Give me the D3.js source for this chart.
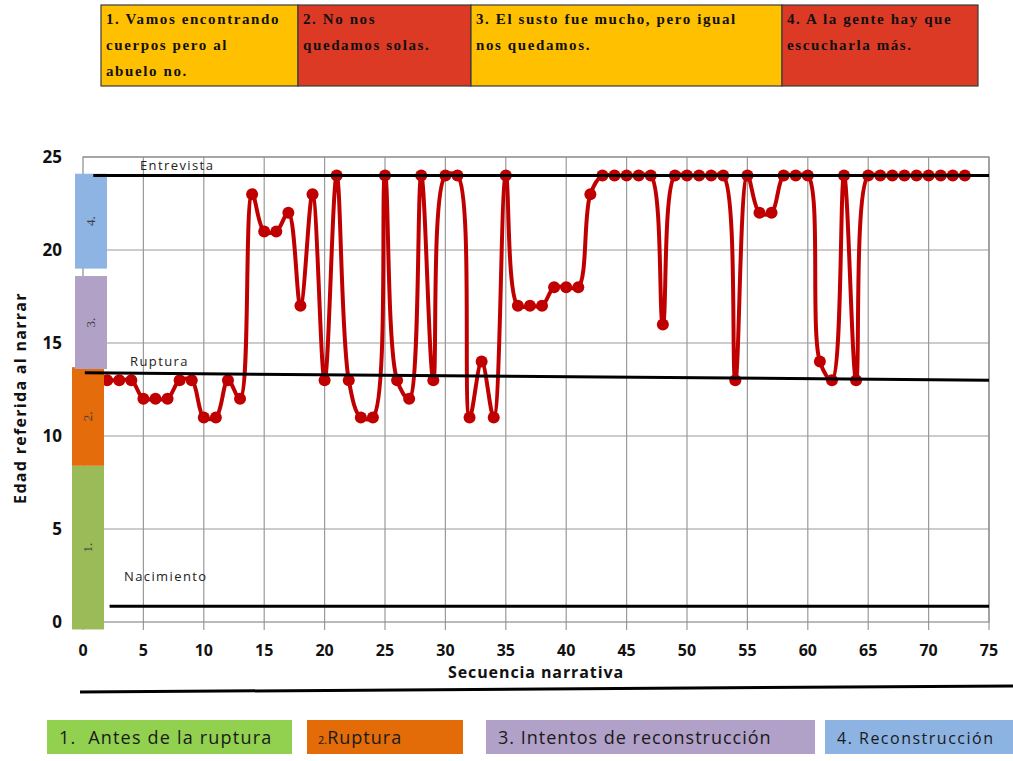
<!DOCTYPE html>
<html>
<head>
<meta charset="utf-8">
<script src="https://d3js.org/d3.v7.min.js"></script>
<style>
  body { margin: 0; background: #fff; }
  svg text { font-family: "Open Sans", "DejaVu Sans", sans-serif; white-space: pre; }
</style>
</head>
<body>
<svg id="chart" width="1013" height="761"></svg>
<script>
// secuencia narrativa (x) and edad referida (y)
var seqX = d3.range(2, 74);
var edad = [13, 13, 13, 12, 12, 12, 13, 13, 11, 11, 13, 12,
            23, 21, 21, 22, 17, 23, 13, 24, 13, 11, 11, 24,
            13, 12, 24, 13, 24, 24, 11, 14, 11, 24, 17, 17,
            17, 18, 18, 18, 23, 24, 24, 24, 24, 24, 16, 24,
            24, 24, 24, 24, 13, 24, 22, 22, 24, 24, 24, 14,
            13, 24, 13, 24, 24, 24, 24, 24, 24, 24, 24, 24];
var xTicks = d3.range(0, 80, 5);
var yTicks = [0, 5, 10, 15, 20, 25];

// reference lines: [x0, y0, x1, y1] in data units
var refNames = ["Entrevista", "Ruptura", "Nacimiento"];
var refLines = [[0.85, 24, 75, 24], [0.15, 13.4, 75, 13.0], [2.2, 0.85, 75, 0.85]];

// stage bands on the left, in data units (y from/to)
var stageLabels = ["1.", "2.", "3.", "4."];
var stageFrom = [-0.4, 8.4, 13.6, 19.0];
var stageTo = [8.4, 13.7, 18.6, 24.1];

// top table
var phrases = [
  ["1. Vamos encontrando", "cuerpos pero al", "abuelo no."],
  ["2. No nos", "quedamos solas."],
  ["3. El susto fue mucho, pero igual", "nos quedamos."],
  ["4. A la gente hay que", "escucharla más."]
];

// legend
var legendNames = ["1.  Antes de la ruptura", "Ruptura", "3. Intentos de reconstrucción", "4. Reconstrucción"];

var svg = d3.select("#chart");

var x = d3.scaleLinear().domain([0, 75]).range([83, 989]);
var y = d3.scaleLinear().domain([0, 25]).range([622, 157]);

// --- top table
var cellX = [101, 298, 471, 782, 978];
var cellFill = ["#ffc000", "#dd3a26", "#ffc000", "#dd3a26"];
var table = svg.append("g");
phrases.forEach(function (lines, i) {
  table.append("rect")
    .attr("x", cellX[i]).attr("y", 5)
    .attr("width", cellX[i + 1] - cellX[i]).attr("height", 81)
    .attr("fill", cellFill[i]).attr("stroke", "#3a3a3a").attr("stroke-width", 1.2);
  lines.forEach(function (t, j) {
    table.append("text")
      .attr("x", cellX[i] + 5).attr("y", 24 + j * 26)
      .style("font-family", "'Liberation Serif', 'DejaVu Serif', serif")
      .style("font-weight", "bold").style("font-size", "15px")
      .style("letter-spacing", "1.6px")
      .attr("fill", "#111").text(t);
  });
});

// --- grid
var g = svg.append("g");
g.selectAll(".gx").data(xTicks.slice(1)).enter().append("line")
  .attr("x1", d => x(d)).attr("x2", d => x(d))
  .attr("y1", y(25)).attr("y2", y(0) + 8)
  .attr("stroke", "#9a9a9a").attr("stroke-width", 1.2);
g.selectAll(".gy").data(yTicks.slice(1)).enter().append("line")
  .attr("x1", x(0)).attr("x2", x(75))
  .attr("y1", d => y(d)).attr("y2", d => y(d))
  .attr("stroke", "#9a9a9a").attr("stroke-width", 1.2);
g.append("rect")
  .attr("x", x(0)).attr("y", y(25))
  .attr("width", x(75) - x(0)).attr("height", y(0) - y(25))
  .attr("fill", "none").attr("stroke", "#8c8c8c").attr("stroke-width", 1.2);
g.append("line")
  .attr("x1", x(0)).attr("x2", x(0)).attr("y1", y(0)).attr("y2", y(0) + 8)
  .attr("stroke", "#9a9a9a");

// --- series
var pts = seqX.map((d, i) => [x(d), y(edad[i])]);
g.append("path")
  .attr("d", d3.line().curve(d3.curveCatmullRom.alpha(0.5))(pts))
  .attr("fill", "none").attr("stroke", "#c00000").attr("stroke-width", 4);
g.selectAll(".pt").data(pts).enter().append("circle")
  .attr("cx", d => d[0]).attr("cy", d => d[1]).attr("r", 6)
  .attr("fill", "#c00000");

// --- stage bands
var stageFill = ["#9bbb59", "#e46c0a", "#b2a1c7", "#8eb4e3"];
var stageLeft = [72, 72, 75, 75];
stageLabels.forEach(function (t, i) {
  var y0 = y(stageTo[i]), y1 = y(stageFrom[i]);
  g.append("rect")
    .attr("x", stageLeft[i]).attr("y", y0)
    .attr("width", 32).attr("height", y1 - y0)
    .attr("fill", stageFill[i]);
  var cx = stageLeft[i] + 16, cy = (y0 + y1) / 2;
  g.append("text")
    .attr("transform", "translate(" + (cx + 4) + "," + cy + ") rotate(-90)")
    .attr("text-anchor", "middle")
    .style("font-family", "'Liberation Serif', serif").style("font-size", "13px")
    .attr("fill", "#404040").text(t);
});

// --- reference lines
var refLabelPos = [[140, 170], [130, 366], [124, 581]];
refLines.forEach(function (r, i) {
  g.append("line")
    .attr("x1", x(r[0])).attr("y1", y(r[1]))
    .attr("x2", x(r[2])).attr("y2", y(r[3]))
    .attr("stroke", "#000").attr("stroke-width", 3);
  g.append("text")
    .attr("x", refLabelPos[i][0]).attr("y", refLabelPos[i][1])
    .style("font-size", "13px").style("letter-spacing", "1.4px")
    .attr("fill", "#222").text(refNames[i]);
});

// --- axes labels
g.selectAll(".ty").data(yTicks).enter().append("text")
  .attr("x", 62).attr("y", d => y(d) + 6)
  .attr("text-anchor", "end")
  .style("font-size", "17px").style("font-weight", "bold")
  .attr("fill", "#111").text(d => d);
g.selectAll(".tx").data(xTicks).enter().append("text")
  .attr("x", d => x(d)).attr("y", 656)
  .attr("text-anchor", "middle")
  .style("font-size", "16px").style("font-weight", "bold")
  .attr("fill", "#111").text(d => d);
g.append("text")
  .attr("x", 536).attr("y", 678)
  .attr("text-anchor", "middle")
  .style("font-size", "16px").style("font-weight", "bold")
  .style("letter-spacing", "0.9px")
  .attr("fill", "#111").text("Secuencia narrativa");
g.append("text")
  .attr("transform", "translate(26,398) rotate(-90)")
  .attr("text-anchor", "middle")
  .style("font-size", "16px").style("font-weight", "bold")
  .style("letter-spacing", "1.3px")
  .attr("fill", "#111").text("Edad referida al narrar");

// bottom rule
svg.append("line")
  .attr("x1", 80).attr("y1", 692).attr("x2", 1013).attr("y2", 686)
  .attr("stroke", "#000").attr("stroke-width", 3);

// --- legend
var legX = [47, 307, 486, 825];
var legW = [245, 156, 329, 200];
var legFill = ["#92d050", "#e36c09", "#b1a0c7", "#8db3e2"];
var legSpacing = ["1.2px", "1px", "1px", "1.5px"];
legendNames.forEach(function (t, i) {
  svg.append("rect")
    .attr("x", legX[i]).attr("y", 720)
    .attr("width", legW[i]).attr("height", 34)
    .attr("fill", legFill[i]);
  var tx = svg.append("text")
    .attr("x", legX[i] + (i === 1 ? 11 : 12)).attr("y", 744)
    .style("font-size", i === 3 ? "16px" : "18px")
    .style("letter-spacing", legSpacing[i])
    .attr("fill", "#1a1a1a");
  if (i === 1) {
    tx.append("tspan").style("font-size", "11px").style("letter-spacing", "0px").text("2.");
    tx.append("tspan").text(t);
  } else {
    tx.text(t);
  }
});
</script>
</body>
</html>
